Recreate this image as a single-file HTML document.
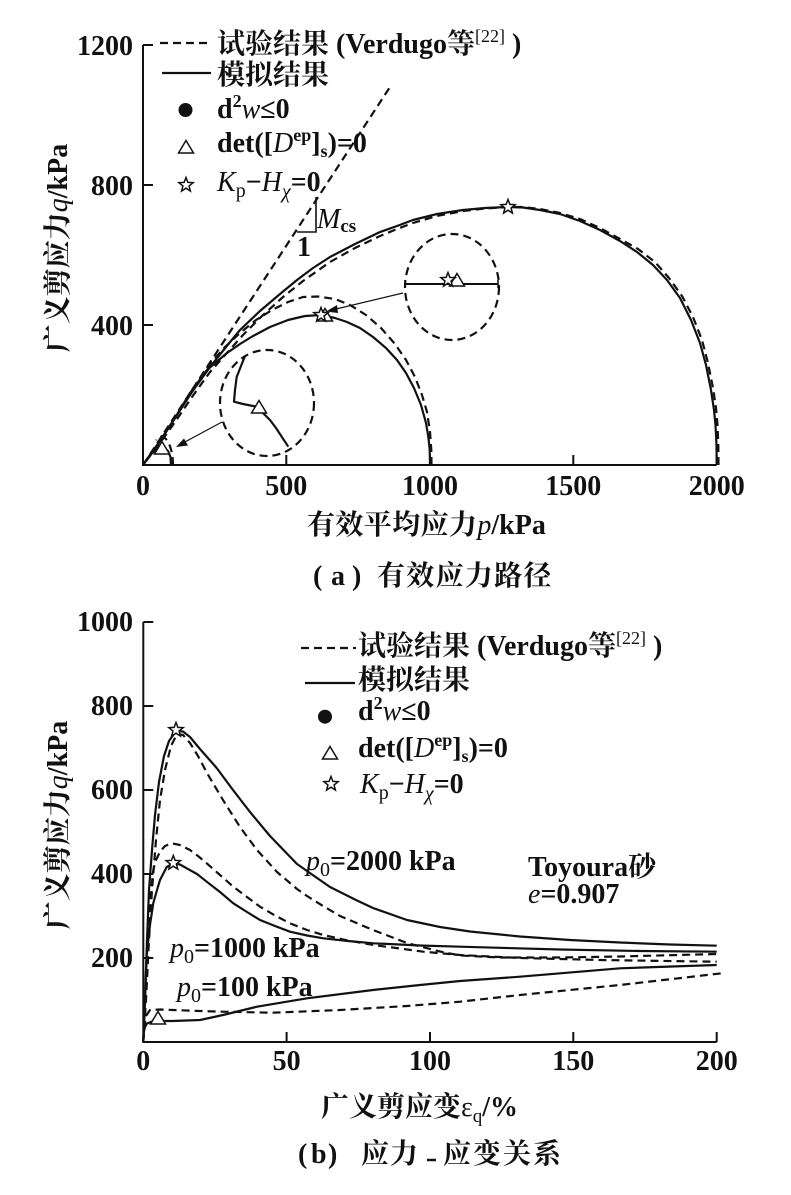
<!DOCTYPE html>
<html>
<head>
<meta charset="utf-8">
<style>
  html,body{margin:0;padding:0;background:#fff;}
  svg{display:block;}
  .t{font-family:"Liberation Serif","Noto Serif CJK SC",serif;font-size:28px;font-weight:bold;fill:#111;}
  .i{font-style:italic;font-weight:normal;}
  .n{font-weight:normal;}
  .ln{fill:none;stroke:#111;stroke-width:2.2;stroke-linejoin:round;stroke-linecap:butt;}
  .ds{fill:none;stroke:#111;stroke-width:2.2;stroke-dasharray:8,5;stroke-linejoin:round;}
  .ax{fill:none;stroke:#111;stroke-width:2;}
  .mk{fill:#fff;stroke:#111;stroke-width:1.5;stroke-linejoin:miter;}
</style>
</head>
<body>
<svg width="791" height="1195" viewBox="0 0 791 1195" xmlns="http://www.w3.org/2000/svg">
<defs>
  <polygon id="star" points="0,-7.5 1.88,-2.59 7.13,-2.32 3.04,0.99 4.41,6.07 0,3.2 -4.41,6.07 -3.04,0.99 -7.13,-2.32 -1.88,-2.59"/>
  <polygon id="tri" points="0,-7.5 7.5,5 -7.5,5"/>
</defs>
<rect width="791" height="1195" fill="#fff"/>

<!-- ================= CHART (a) ================= -->
<!-- axes -->
<polyline class="ax" points="143,45 143,465 716.7,465"/>
<line class="ax" x1="143" y1="45" x2="153" y2="45"/>
<line class="ax" x1="143" y1="185" x2="153" y2="185"/>
<line class="ax" x1="143" y1="325" x2="153" y2="325"/>
<line class="ax" x1="286.3" y1="465" x2="286.3" y2="455"/>
<line class="ax" x1="430" y1="465" x2="430" y2="455"/>
<line class="ax" x1="573.3" y1="465" x2="573.3" y2="455"/>
<line class="ax" x1="716.7" y1="465" x2="716.7" y2="455"/>

<!-- tick labels -->
<text class="t" x="133" y="55" text-anchor="end">1200</text>
<text class="t" x="133" y="195" text-anchor="end">800</text>
<text class="t" x="133" y="335" text-anchor="end">400</text>
<text class="t" x="143" y="495" text-anchor="middle">0</text>
<text class="t" x="286.3" y="495" text-anchor="middle">500</text>
<text class="t" x="430" y="495" text-anchor="middle">1000</text>
<text class="t" x="573.3" y="495" text-anchor="middle">1500</text>
<text class="t" x="716.7" y="495" text-anchor="middle">2000</text>

<!-- axis titles -->
<text class="t" transform="translate(67,248) rotate(-90)" text-anchor="middle">广义剪应力<tspan class="i">q</tspan>/kPa</text>
<text class="t" x="307" y="534" letter-spacing="0.4">有效平均应力<tspan class="i" letter-spacing="0">p</tspan><tspan letter-spacing="0">/kPa</tspan></text>
<text class="t" x="313" y="585">(</text>
<text class="t" x="331" y="585">a</text>
<text class="t" x="352" y="585">)</text>
<text class="t" x="377" y="585" letter-spacing="1.3">有效应力路径</text>

<!-- CSL -->
<line class="ds" x1="143" y1="465" x2="390" y2="87"/>
<!-- slope triangle -->
<polyline fill="none" stroke="#111" stroke-width="1.6" points="316,197 316,232 297,232"/>
<text class="t" x="317" y="228"><tspan class="i">M</tspan><tspan font-size="19" dy="4">cs</tspan></text>
<text class="t" x="297" y="256">1</text>

<!-- p0=2000 -->
<polyline class="ln" points="716.7,465 716.5,445 715.5,425 714,410 711,390 706,365 700,343 691,320 680,298 667,280 653,265 637,252 620,241 600,230 580,221 560,214 540,210 523,207.5 508,207 485,208 463,210 437,214 413,220 397,226 380,232 355,244 330,257 313,268 297,280 280,294 260,311 240,330 226,347 210,367 192,392 175,418 160,441 143,465"/>
<polyline class="ds" points="718.5,465 718.3,445 717.5,425 716,408 713,388 708,363 702,340 693,317 682,296 669,278 655,262 638,249 620,239 600,228 580,219 560,213 540,209 523,207 510,207 485,208.5 463,211 437,216 413,223 397,229 380,236 355,248 330,262 303,281 283,297 262,316 243,335 226,354 210,372 192,397 175,422 160,443 143,465"/>
<!-- p0=1000 -->
<polyline class="ln" points="430,465 429.7,450 428.5,438 426,423 421,405 414,388 406,373 397,360 386,348 373,337 360,328 347,322 335,318 321,315 305,316 288,320 270,327 253,336 240,344 227,353 207,370 190,393 175,418 160,441 143,465"/>
<polyline class="ds" points="431.5,465 431.3,450 430,432 427,412 422,395 415,377 406,360 395,344 381,328 366,315 350,305 335,299 318,296.5 303,297 288,302 272,310 256,320 240,333 225,347 210,364 192,390 175,418 160,441 143,465"/>
<!-- p0=100 -->
<polyline class="ds" points="173,465 172.5,455 170,446 166,439 162,436 156,440"/>
<polyline class="ln" points="171,465 170.5,457 168,451 164,448 158,448 150,455 143,465"/>

<!-- insets -->
<ellipse class="ds" cx="452" cy="287" rx="47" ry="53"/>
<line x1="405" y1="284" x2="498" y2="284" stroke="#111" stroke-width="2"/>
<line x1="405" y1="280" x2="405" y2="288" stroke="#111" stroke-width="1.5"/>
<line x1="498" y1="280" x2="498" y2="288" stroke="#111" stroke-width="1.5"/>
<use href="#tri" class="mk" x="457" y="281"/>
<use href="#star" class="mk" x="448" y="280"/>

<ellipse class="ds" cx="267" cy="403" rx="47" ry="53"/>
<polyline class="ln" points="245,356 241,366 236.7,377 235,390 234,401.7 243,404 256.7,406.7 262,412 270,420 276,428 281.7,436.7 288.3,446.7"/>
<use href="#tri" class="mk" x="259" y="408"/>

<!-- arrows -->
<line x1="403" y1="293" x2="334" y2="309.5" stroke="#111" stroke-width="1.2"/>
<polygon points="326,311.5 337,305 338,313" fill="#111"/>
<line x1="222" y1="422" x2="183" y2="443" stroke="#111" stroke-width="1.2"/>
<polygon points="176,447 184,438.5 188,445.5" fill="#111"/>

<!-- markers on curves (a) -->
<use href="#tri" class="mk" x="162" y="449"/>
<use href="#tri" class="mk" x="325" y="316"/>
<use href="#star" class="mk" x="321" y="315"/>
<use href="#star" class="mk" x="508" y="207"/>

<!-- legend (a) -->
<line class="ds" x1="160" y1="43" x2="212" y2="43" stroke-dasharray="8,5"/>
<text class="t" x="217" y="53">试验结果 (Verdugo等<tspan font-size="18" dy="-11" class="n">[22]</tspan><tspan dy="11"> )</tspan></text>
<line class="ln" x1="162" y1="73" x2="211" y2="73"/>
<text class="t" x="217" y="84">模拟结果</text>
<circle cx="185.5" cy="110" r="7" fill="#111"/>
<text class="t" x="217" y="118">d<tspan font-size="18" dy="-11">2</tspan><tspan class="i" dy="11">w</tspan>≤0</text>
<use href="#tri" class="mk" x="186" y="148"/>
<text class="t" x="217" y="152">det([<tspan class="i">D</tspan><tspan font-size="18" dy="-11">ep</tspan><tspan dy="11">]</tspan><tspan font-size="18" dy="5">s</tspan><tspan dy="-5">)=0</tspan></text>
<use href="#star" class="mk" x="186" y="185"/>
<text class="t" x="217" y="191"><tspan class="i">K</tspan><tspan font-size="20" class="n" dy="6">p</tspan><tspan dy="-6">−</tspan><tspan class="i">H</tspan><tspan font-size="20" class="i" dy="7">χ</tspan><tspan dy="-7">=0</tspan></text>

<!-- ================= CHART (b) ================= -->
<polyline class="ax" points="143.3,622 143.3,1042 716.7,1042"/>
<line class="ax" x1="143.3" y1="622" x2="153.3" y2="622"/>
<line class="ax" x1="143.3" y1="706" x2="153.3" y2="706"/>
<line class="ax" x1="143.3" y1="790" x2="153.3" y2="790"/>
<line class="ax" x1="143.3" y1="874" x2="153.3" y2="874"/>
<line class="ax" x1="143.3" y1="958" x2="153.3" y2="958"/>
<line class="ax" x1="286.6" y1="1042" x2="286.6" y2="1032"/>
<line class="ax" x1="430" y1="1042" x2="430" y2="1032"/>
<line class="ax" x1="573.3" y1="1042" x2="573.3" y2="1032"/>
<line class="ax" x1="716.7" y1="1042" x2="716.7" y2="1032"/>

<text class="t" x="133" y="631" text-anchor="end">1000</text>
<text class="t" x="133" y="715" text-anchor="end">800</text>
<text class="t" x="133" y="799" text-anchor="end">600</text>
<text class="t" x="133" y="883" text-anchor="end">400</text>
<text class="t" x="133" y="967" text-anchor="end">200</text>
<text class="t" x="143.3" y="1070" text-anchor="middle">0</text>
<text class="t" x="286.6" y="1070" text-anchor="middle">50</text>
<text class="t" x="430" y="1070" text-anchor="middle">100</text>
<text class="t" x="573.3" y="1070" text-anchor="middle">150</text>
<text class="t" x="716.7" y="1070" text-anchor="middle">200</text>

<text class="t" transform="translate(67,825) rotate(-90)" text-anchor="middle">广义剪应力<tspan class="i">q</tspan>/kPa</text>
<text class="t" x="321" y="1116">广义剪应变<tspan class="n">ε</tspan><tspan font-size="19" class="n" dy="6">q</tspan><tspan dy="-6">/%</tspan></text>
<text class="t" x="298" y="1163">(</text>
<text class="t" x="311" y="1163">b</text>
<text class="t" x="328" y="1163">)</text>
<text class="t" x="361" y="1163" letter-spacing="1">应力</text>
<line x1="427" y1="1160" x2="436" y2="1160" stroke="#111" stroke-width="2.5"/>
<text class="t" x="443" y="1163" letter-spacing="2">应变关系</text>

<!-- curves (b) -->
<!-- p0=2000 -->
<polyline class="ln" points="143.3,1042 145,1000 147,940 149,890 152,850 155,815 159,782 164,756 169,741 176,731 183,731.5 190,737 200,749 216.7,768 233,790 250,812 270,836 297,864 330,887 356,900 373,908 407,920 440,927 470,931.5 520,936.5 570,940 620,942.5 670,944.5 716.7,945.7"/>
<polyline class="ds" points="143.3,1042 146,1000 149,940 152,890 156,840 160,800 165,770 171,746 177,734 183,735 190,743 198,756 207,773 223,800 240,827 257,850 277,872 297,889 307,896 323,906 340,916 373,930 407,943 440,951.5 460,955.5 500,957.5 560,957.5 620,956.5 716.7,954"/>
<!-- p0=1000 -->
<polyline class="ln" points="143.3,1042 145,1000 146.7,955 150,925 153.3,903 157,890 160,880 166.7,867 173.3,863.3 180,864.5 186.7,868.3 197,874 206.7,881.7 220,892 233.3,903.3 247,912 260,920 275,926 290,931.7 307,935.5 323.3,938.3 348,941 373.3,943.3 420,945.5 460,946.7 560,949.5 640,951 716.7,951.7"/>
<polyline class="ds" points="143.3,1042 145.5,990 148.3,920 151,890 153.3,870 156,860 160,851.7 165,846 171.7,843.3 180,845 190,850 198,856 206.7,863.3 220,875 233.3,886.7 247,897 260,906.7 275,915.5 290,923.3 307,930 323.3,935 348,940.5 373.3,945 400,948.5 423.3,951.7 460,955 520,958 600,960 716.7,961.7"/>
<!-- p0=100 -->
<polyline class="ln" points="143.3,1042 143.6,1033 145,1027 147,1023.5 152,1021.5 158,1021 173,1021 200,1020 223,1015 257,1006.7 307,998.3 373,990 420,985 460,981 520,976.7 620,968.3 716.7,965"/>
<polyline class="ds" points="143.3,1042 144,1030 146,1016 150,1010 160,1009.5 173,1010 200,1011 223,1011.7 273,1012.7 340,1010 407,1006 460,1001.7 520,995 620,985 721.7,973.3"/>

<!-- markers (b) -->
<use href="#star" class="mk" x="176" y="730"/>
<use href="#star" class="mk" x="173.3" y="863"/>
<use href="#tri" class="mk" x="158" y="1019"/>

<!-- annotations (b) -->
<text class="t" x="306" y="870"><tspan class="i">p</tspan><tspan font-size="20" class="n" dy="6">0</tspan><tspan dy="-6">=2000 kPa</tspan></text>
<text class="t" x="170" y="957"><tspan class="i">p</tspan><tspan font-size="20" class="n" dy="6">0</tspan><tspan dy="-6">=1000 kPa</tspan></text>
<text class="t" x="177" y="996"><tspan class="i">p</tspan><tspan font-size="20" class="n" dy="6">0</tspan><tspan dy="-6">=100 kPa</tspan></text>
<text class="t" x="528" y="876">Toyoura砂</text>
<text class="t" x="528" y="903"><tspan class="i">e</tspan>=0.907</text>

<!-- legend (b) -->
<line class="ds" x1="301" y1="648" x2="356" y2="648" stroke-dasharray="8,5"/>
<text class="t" x="358" y="655">试验结果 (Verdugo等<tspan font-size="18" dy="-11" class="n">[22]</tspan><tspan dy="11"> )</tspan></text>
<line class="ln" x1="305" y1="683" x2="355" y2="683"/>
<text class="t" x="358" y="689">模拟结果</text>
<circle cx="325" cy="716.7" r="7" fill="#111"/>
<text class="t" x="358" y="720">d<tspan font-size="18" dy="-11">2</tspan><tspan class="i" dy="11">w</tspan>≤0</text>
<use href="#tri" class="mk" x="330" y="754"/>
<text class="t" x="358" y="757">det([<tspan class="i">D</tspan><tspan font-size="18" dy="-11">ep</tspan><tspan dy="11">]</tspan><tspan font-size="18" dy="5">s</tspan><tspan dy="-5">)=0</tspan></text>
<use href="#star" class="mk" x="331" y="784"/>
<text class="t" x="360" y="793"><tspan class="i">K</tspan><tspan font-size="20" class="n" dy="6">p</tspan><tspan dy="-6">−</tspan><tspan class="i">H</tspan><tspan font-size="20" class="i" dy="7">χ</tspan><tspan dy="-7">=0</tspan></text>
</svg>
</body>
</html>
